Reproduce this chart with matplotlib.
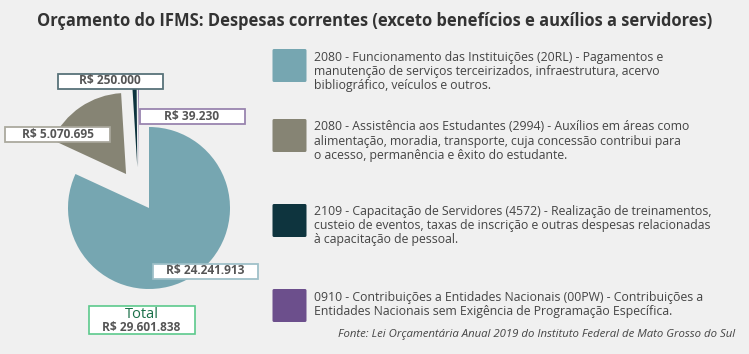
import numpy as np
import matplotlib
matplotlib.use('Agg')
import matplotlib.pyplot as plt
from matplotlib.patches import Rectangle, FancyBboxPatch

plt.rcParams['font.family'] = ['Open Sans', 'DejaVu Sans']

# dados (LOA 2019 - IFMS)
valores = [24241913, 5070695, 250000, 39230]
rotulos = ['R$ 24.241.913', 'R$ 5.070.695', 'R$ 250.000', 'R$ 39.230']
total_txt = 'R$ 29.601.838'
legendas = [
    '2080 - Funcionamento das Instituições (20RL) - Pagamentos e\n'
    'manutenção de serviços terceirizados, infraestrutura, acervo\n'
    'bibliográfico, veículos e outros.',
    '2080 - Assistência aos Estudantes (2994) - Auxílios em áreas como\n'
    'alimentação, moradia, transporte, cuja concessão contribui para\n'
    'o acesso, permanência e êxito do estudante.',
    '2109 - Capacitação de Servidores (4572) - Realização de treinamentos,\n'
    'custeio de eventos, taxas de inscrição e outras despesas relacionadas\n'
    'à capacitação de pessoal.',
    '0910 - Contribuições a Entidades Nacionais (00PW) - Contribuições a\n'
    'Entidades Nacionais sem Exigência de Programação Específica.',
]
cores = ['#76a6b1', '#868474', '#0e343e', '#6c4f8c']

bg = '#f0f0f0'
W, H = 749, 354
fig = plt.figure(figsize=(W / 100, H / 100), dpi=100, facecolor=bg)
ax = fig.add_axes([0, 0, 1, 1])
ax.set_facecolor(bg)

# pizza (coordenadas em pixels, y para cima)
cx, cy, r = 149, 146, 81
wedges, _ = ax.pie(valores, colors=cores, startangle=90, counterclock=False,
                   center=(cx, cy), radius=r, wedgeprops=dict(linewidth=0))
# fatias destacadas
desloc = [0, 41, 42.5, 42]
direcao = [0, 124, 106, 104]
for w, d, a in zip(wedges, desloc, direcao):
    if d:
        t = np.deg2rad(a)
        w.set_center((cx + d * np.cos(t), cy + d * np.sin(t)))

ax.set_xlim(0, W)
ax.set_ylim(0, H)
ax.set_aspect('auto')
ax.axis('off')

# caixas dos valores
pos_rot = [(205.5, 354 - 271), (57.5, 354 - 134), (110, 354 - 81), (192, 354 - 116.5)]
bw, bh = 105, 15
for (x, y), txt, c in zip(pos_rot, rotulos, cores):
    ax.add_patch(Rectangle((x - bw / 2, y - bh / 2), bw, bh, facecolor='white',
                           edgecolor=c, lw=1.2, zorder=5))
    ax.add_patch(Rectangle((x - bw / 2, y - bh / 2), bw, bh, facecolor='none',
                           edgecolor='white', alpha=0.3, lw=1.2, zorder=6))
    ax.text(x, y, txt, ha='center', va='center', fontsize=8.6, fontweight='bold',
            color='#555555', zorder=7)

# total
ax.add_patch(Rectangle((88.5, 354 - 334), 106, 28, facecolor='white',
                       edgecolor='#5cc98c', lw=1.2, zorder=5))
ax.text(141.5, 354 - 314.5, 'Total', ha='center', va='center', fontsize=10.5,
        color='#1b7049', zorder=7)
ax.text(141.5, 354 - 327.5, total_txt, ha='center', va='center', fontsize=8.6,
        fontweight='bold', color='#555555', zorder=7)

# título
ax.text(375, 354 - 21, 'Orçamento do IFMS: Despesas correntes (exceto benefícios e auxílios a servidores)',
        ha='center', va='center', fontsize=11.9, fontweight='bold', color='#333333')

# legenda
topos = [49, 119, 204, 289]
for y0, txt, c in zip(topos, legendas, cores):
    ax.add_patch(FancyBboxPatch((272.5, 354 - y0 - 33), 34, 33,
                                boxstyle='round,pad=0,rounding_size=1.5',
                                facecolor=c, edgecolor='none'))
    ax.text(314, 354 - y0 - 1.5, txt, ha='left', va='top', fontsize=8.85,
            color='#444444', linespacing=1.1)

ax.text(735, 354 - 335, 'Fonte: Lei Orçamentária Anual 2019 do Instituto Federal de Mato Grosso do Sul',
        ha='right', va='center', fontsize=8.2, style='italic', color='#444444')

fig.savefig('out.png', dpi=100, facecolor=bg)
